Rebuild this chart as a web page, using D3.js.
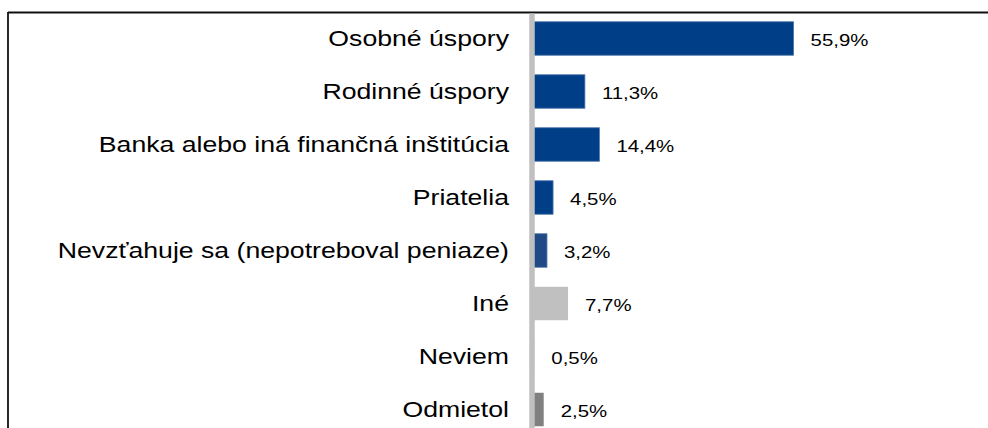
<!DOCTYPE html>
<html>
<head>
<meta charset="utf-8">
<script src="https://cdn.jsdelivr.net/npm/d3@7"></script>
<style>
  html, body { margin: 0; padding: 0; background: #fff; }
  svg { display: block; }
  text { font-family: "Liberation Sans", Arial, sans-serif; fill: #000; }
</style>
</head>
<body>
<svg id="chart" width="988" height="428"></svg>
<script>
// Zdroj financovania podnikania (%)
const categories = [
  "Osobné úspory",
  "Rodinné úspory",
  "Banka alebo iná finančná inštitúcia",
  "Priatelia",
  "Nevzťahuje sa (nepotreboval peniaze)",
  "Iné",
  "Neviem",
  "Odmietol"
];
const values = [55.9, 11.3, 14.4, 4.5, 3.2, 7.7, 0.5, 2.5];
const valueLabels = ["55,9%", "11,3%", "14,4%", "4,5%", "3,2%", "7,7%", "0,5%", "2,5%"];
const barColors = ["#003F87", "#003F87", "#003F87", "#003F87", "#1F4A86", "#C0C0C0", "#C0C0C0", "#808080"];

const W = 988, H = 428;
const svg = d3.select("#chart");
const textStretch = 1.2;   // wide type, as in the original layout

const x = d3.scaleLinear().domain([0, 55.9]).range([532, 793.6]);
const y = d3.scaleBand()
  .domain(categories)
  .range([12, 436])
  .paddingInner(0.368)
  .paddingOuter(0.184);

// frame: top and left rules
svg.append("line").attr("x1", 8).attr("x2", W).attr("y1", 12.5).attr("y2", 12.5)
  .attr("stroke", "#111").attr("stroke-width", 1.8);
svg.append("line").attr("x1", 8).attr("x2", 8).attr("y1", 12).attr("y2", H)
  .attr("stroke", "#111").attr("stroke-width", 1.8);

// bars
svg.append("g").selectAll("rect")
  .data(categories)
  .join("rect")
  .attr("x", x(0))
  .attr("y", d => y(d))
  .attr("width", (d, i) => x(values[i]) - x(0))
  .attr("height", y.bandwidth())
  .attr("fill", (d, i) => barColors[i])
  .attr("stroke", (d, i) => i < 5 ? "#4F75AA" : "none")
  .attr("stroke-width", 0.8);

// category axis line
svg.append("line").attr("x1", 532).attr("x2", 532).attr("y1", 13.5).attr("y2", H)
  .attr("stroke", "#C0C0C0").attr("stroke-width", 5.5);

// category labels
svg.append("g").selectAll("text")
  .data(categories)
  .join("text")
  .attr("transform", d => `translate(509,${y(d) + y.bandwidth() / 2 + 7.6}) scale(${textStretch},1)`)
  .attr("text-anchor", "end")
  .style("font-size", "22.2px")
  .text(d => d);

// value labels
svg.append("g").selectAll("text")
  .data(categories)
  .join("text")
  .attr("transform", (d, i) => `translate(${x(values[i]) + 17},${y(d) + y.bandwidth() / 2 + 7.4}) scale(${textStretch},1)`)
  .attr("text-anchor", "start")
  .style("font-size", "17px")
  .text((d, i) => valueLabels[i]);
</script>
</body>
</html>
